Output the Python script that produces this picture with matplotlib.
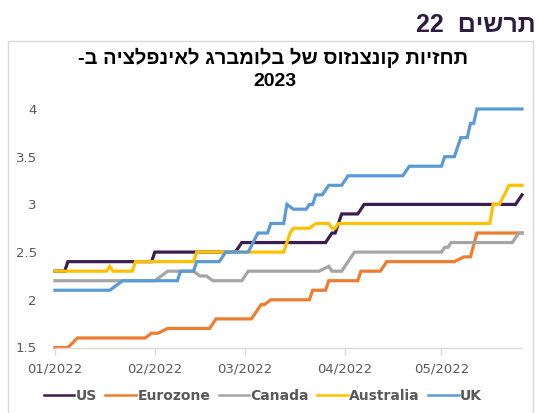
import numpy as np
import matplotlib.pyplot as plt
import matplotlib.dates as mdates
import pandas as pd
from matplotlib.patches import Rectangle

# step points (date, forecast %)
us_dates = ['2022-01-01', '2022-01-04', '2022-01-05', '2022-01-31', '2022-02-01', '2022-02-26',
            '2022-02-28', '2022-03-26', '2022-03-28', '2022-03-29', '2022-03-31', '2022-04-05',
            '2022-04-07', '2022-05-24', '2022-05-26']
us_vals = [2.3, 2.3, 2.4, 2.4, 2.5, 2.5, 2.6, 2.6, 2.7, 2.7, 2.9, 2.9, 3.0, 3.0, 3.1]

ez_dates = ['2022-01-01', '2022-01-05', '2022-01-08', '2022-01-29', '2022-01-31', '2022-02-02',
            '2022-02-05', '2022-02-18', '2022-02-20', '2022-03-03', '2022-03-06', '2022-03-07',
            '2022-03-09', '2022-03-21', '2022-03-22', '2022-03-26', '2022-03-27', '2022-04-05',
            '2022-04-06', '2022-04-12', '2022-04-14', '2022-05-05', '2022-05-08', '2022-05-10',
            '2022-05-12', '2022-05-26']
ez_vals = [1.5, 1.5, 1.6, 1.6, 1.65, 1.65, 1.7, 1.7, 1.8, 1.8, 1.95, 1.95, 2.0, 2.0, 2.1, 2.1,
           2.2, 2.2, 2.3, 2.3, 2.4, 2.4, 2.45, 2.45, 2.7, 2.7]

ca_dates = ['2022-01-01', '2022-02-01', '2022-02-05', '2022-02-13', '2022-02-15', '2022-02-17',
            '2022-02-19', '2022-02-28', '2022-03-02', '2022-03-24', '2022-03-27', '2022-03-28',
            '2022-03-31', '2022-04-04', '2022-05-01', '2022-05-02', '2022-05-03', '2022-05-04',
            '2022-05-23', '2022-05-25', '2022-05-26']
ca_vals = [2.2, 2.2, 2.3, 2.3, 2.25, 2.25, 2.2, 2.2, 2.3, 2.3, 2.35, 2.3, 2.3, 2.5, 2.5, 2.55,
           2.55, 2.6, 2.6, 2.7, 2.7]

au_dates = ['2022-01-01', '2022-01-17', '2022-01-18', '2022-01-19', '2022-01-25', '2022-01-26',
            '2022-02-13', '2022-02-14', '2022-03-13', '2022-03-15', '2022-03-16', '2022-03-21',
            '2022-03-23', '2022-03-27', '2022-03-28', '2022-03-29', '2022-03-30', '2022-05-16',
            '2022-05-17', '2022-05-19', '2022-05-22', '2022-05-26']
au_vals = [2.3, 2.3, 2.35, 2.3, 2.3, 2.4, 2.4, 2.5, 2.5, 2.7, 2.75, 2.75, 2.8, 2.8, 2.75, 2.75,
           2.8, 2.8, 3.0, 3.0, 3.2, 3.2]

uk_dates = ['2022-01-01', '2022-01-18', '2022-01-20', '2022-01-22', '2022-02-08', '2022-02-09',
            '2022-02-13', '2022-02-14', '2022-02-21', '2022-02-23', '2022-03-02', '2022-03-05',
            '2022-03-08', '2022-03-09', '2022-03-13', '2022-03-14', '2022-03-16', '2022-03-20',
            '2022-03-21', '2022-03-22', '2022-03-23', '2022-03-25', '2022-03-27', '2022-03-31',
            '2022-04-02', '2022-04-19', '2022-04-21', '2022-05-01', '2022-05-02', '2022-05-05',
            '2022-05-07', '2022-05-09', '2022-05-10', '2022-05-11', '2022-05-12', '2022-05-26']
uk_vals = [2.1, 2.1, 2.15, 2.2, 2.2, 2.3, 2.3, 2.4, 2.4, 2.5, 2.5, 2.7, 2.7, 2.8, 2.8, 3.0,
           2.95, 2.95, 3.0, 3.0, 3.1, 3.1, 3.2, 3.2, 3.3, 3.3, 3.4, 3.4, 3.5, 3.5, 3.7, 3.7,
           3.85, 3.85, 4.0, 4.0]

series_names = ['US', 'Eurozone', 'Canada', 'Australia', 'UK']
series_colors = ['#3B1E4F', '#ED7D31', '#A5A5A5', '#FFC000', '#5B9BD5']
y_ticks = [1.5, 2, 2.5, 3, 3.5, 4]
y_labels = ['1.5', '2', '2.5', '3', '3.5', '4']
month_ticks = ['2022-01-01', '2022-02-01', '2022-03-01', '2022-04-01', '2022-05-01']

# hebrew text, logical order (matplotlib has no bidi, so flipped below for display)
chart_no = 'תרשים'
title_line1 = 'תחזיות קונצנזוס של בלומברג לאינפלציה ב-'
title_line2 = '2023'

def visual(s):
    # reverse for right-to-left display; the trailing hyphen ends up on the left
    return s[::-1]

W, H = 537, 413
fig = plt.figure(figsize=(W / 100, H / 100), dpi=100)
heb = ['Liberation Sans', 'DejaVu Sans']

# outer frame of the chart box
fig.patches.append(Rectangle((8 / W, -0.05), 525 / W, 1.05 - 41 / H, transform=fig.transFigure,
                             fill=False, edgecolor='#D9D9D9', linewidth=1.0))

fig.text(536 / W, 1 - 25 / H, '22  ' + visual(chart_no), ha='right', va='center',
         fontsize=18, fontweight='bold', color='#2E1B40', family=heb)
fig.text(273 / W, 1 - 58 / H, visual(title_line1), ha='center', va='center',
         fontsize=14.5, fontweight='bold', color='black', family=heb)
fig.text(275 / W, 1 - 81 / H, title_line2, ha='center', va='center',
         fontsize=14, fontweight='bold', color='black', family=heb)

ax = fig.add_axes([55 / W, 1 - 347.5 / H, (522 - 55) / W, (347.5 - 109) / H])

all_dates = [us_dates, ez_dates, ca_dates, au_dates, uk_dates]
all_vals = [us_vals, ez_vals, ca_vals, au_vals, uk_vals]
for d, v, name, c in zip(all_dates, all_vals, series_names, series_colors):
    ax.plot(pd.to_datetime(d), v, color=c, linewidth=2.3, label=name, clip_on=False,
            solid_joinstyle='miter')

ax.set_xlim(pd.Timestamp('2022-01-01'), pd.Timestamp('2022-05-26'))
ax.set_ylim(1.5, 4.0)
ax.set_yticks(y_ticks)
ax.set_yticklabels(y_labels)
ax.set_xticks(pd.to_datetime(month_ticks))
ax.xaxis.set_major_formatter(mdates.DateFormatter('%m/%Y'))

for side in ['top', 'right', 'left']:
    ax.spines[side].set_visible(False)
ax.spines['bottom'].set_color('#D9D9D9')
ax.spines['bottom'].set_linewidth(1.0)
ax.tick_params(axis='x', length=5, width=1, color='#D9D9D9', pad=6, labelsize=9.5, labelcolor='#595959')
ax.tick_params(axis='y', length=0, pad=13, labelsize=9.5, labelcolor='#595959')

leg = fig.legend(loc='center', bbox_to_anchor=(263 / W, 1 - 396 / H), ncol=5, frameon=False,
                 handlelength=2.2, handletextpad=0.1, columnspacing=0.6,
                 borderaxespad=0, borderpad=0, prop={'weight': 'bold', 'size': 10})
for t in leg.get_texts():
    t.set_color('#595959')
for l in leg.get_lines():
    l.set_linewidth(1.8)

fig.savefig('out.png', dpi=100)
